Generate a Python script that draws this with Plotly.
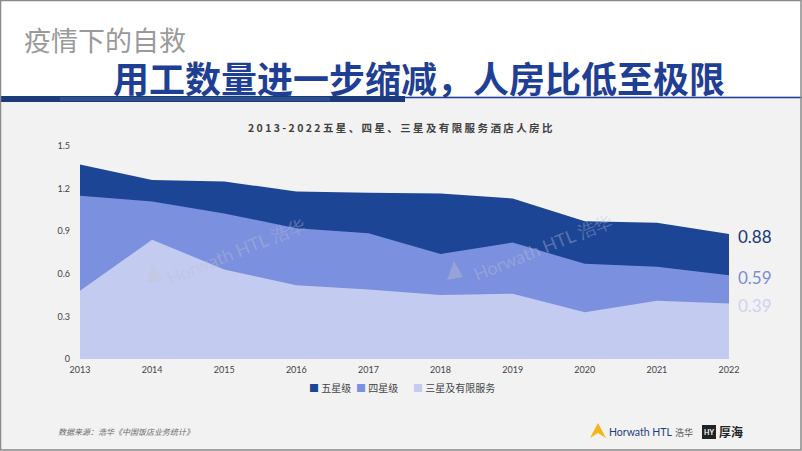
import plotly.graph_objects as go

years = [2013, 2014, 2015, 2016, 2017, 2018, 2019, 2020, 2021, 2022]
five_star = [1.37, 1.26, 1.25, 1.18, 1.17, 1.165, 1.13, 0.97, 0.96, 0.88]
four_star = [1.15, 1.11, 1.025, 0.92, 0.885, 0.74, 0.82, 0.67, 0.65, 0.59]
three_star = [0.48, 0.84, 0.63, 0.52, 0.49, 0.45, 0.46, 0.33, 0.41, 0.39]
series_names = ["五星级", "四星级", "三星及有限服务"]
y_ticks = [0, 0.3, 0.6, 0.9, 1.2, 1.5]
y_tick_text = ["0", "0.3", "0.6", "0.9", "1.2", "1.5"]

colors = ["#1D4596", "#7B91E0", "#C3CBF1"]
label_colors = ["#17357A", "#7A8CD6", "#CDD3F0"]

W, H = 802, 451
ML, MR, MT, MB = 80, 73, 146, 92
PW, PH = W - ML - MR, H - MT - MB


def px(x):
    return (x - ML) / PW


def py(y):
    return (H - MB - y) / PH


fig = go.Figure()
for name, vals, col in zip(series_names, [five_star, four_star, three_star], colors):
    fig.add_trace(go.Scatter(
        x=years, y=vals, mode="lines", fill="tozeroy", fillcolor=col,
        line=dict(width=0, color=col), name=name, showlegend=False,
        hoverinfo="x+y"))

shapes = []
# white header
shapes.append(dict(type="rect", xref="paper", yref="paper", x0=px(0), x1=px(W),
                   y0=py(96), y1=py(0), fillcolor="white", line=dict(width=0), layer="below"))
# thin blue line
shapes.append(dict(type="line", xref="paper", yref="paper", x0=px(0), x1=px(W),
                   y0=py(97.5), y1=py(97.5), line=dict(color="#1F3F95", width=1.5)))
# dark textured bar
shapes.append(dict(type="rect", xref="paper", yref="paper", x0=px(0), x1=px(405),
                   y0=py(102), y1=py(96), fillcolor="#1C3A7A", line=dict(width=0)))
shapes.append(dict(type="rect", xref="paper", yref="paper", x0=px(60), x1=px(330),
                   y0=py(101), y1=py(97), fillcolor="rgba(80,120,180,0.35)", line=dict(width=0)))
# border
shapes.append(dict(type="rect", xref="paper", yref="paper", x0=px(0.5), x1=px(W - 1),
                   y0=py(H - 1), y1=py(0.5), line=dict(color="#8a8a8a", width=1.5)))
# watermark triangles
for cx, cy in [(153, 274), (454, 271)]:
    shapes.append(dict(type="path", xref="paper", yref="paper",
                       path=f"M {px(cx-7)},{py(cy+9)} L {px(cx)},{py(cy-10)} L {px(cx+9)},{py(cy+6)} Z",
                       fillcolor="rgba(200,195,200,0.35)", line=dict(width=0)))
# logo triangle
shapes.append(dict(type="path", xref="paper", yref="paper",
                   path=f"M {px(590)},{py(438)} L {px(598)},{py(423)} L {px(606)},{py(438)} L {px(598)},{py(433)} Z",
                   fillcolor="#F2B51C", line=dict(width=0)))
# logo box 厚海
shapes.append(dict(type="rect", xref="paper", yref="paper", x0=px(702), x1=px(716),
                   y0=py(439), y1=py(425), fillcolor="#222", line=dict(width=0)))

ann = []
ann.append(dict(text="疫情下的自救", x=px(22), y=py(40), xref="paper", yref="paper",
                xanchor="left", yanchor="middle", showarrow=False,
                font=dict(size=27, color="#9A9A9A", family="Noto Sans CJK SC")))
ann.append(dict(text="<b>用工数量进一步缩减，人房比低至极限</b>", x=px(419), y=py(77),
                xref="paper", yref="paper", xanchor="center", yanchor="middle", showarrow=False,
                font=dict(size=36, color="#1F3F95", family="Noto Sans CJK SC")))
title_txt = " ".join(list("2013-2022五星、四星、三星及有限服务酒店人房比"))
ann.append(dict(text="<b>" + title_txt + "</b>", x=px(400), y=py(127), xref="paper", yref="paper",
                xanchor="center", yanchor="middle", showarrow=False,
                font=dict(size=10.5, color="#404040", family="Noto Sans CJK SC")))
for v, col in zip([five_star[-1], four_star[-1], three_star[-1]], label_colors):
    ann.append(dict(text=f"{v:.2f}", x=years[-1], y=v, xref="x", yref="y",
                    xanchor="left", yanchor="middle", xshift=7, yshift=-2, showarrow=False,
                    font=dict(size=17, color=col, family="Lato")))
for cx, cy in [(236, 251), (543, 247)]:
    ann.append(dict(text="Horwath HTL 浩华", x=px(cx), y=py(cy), xref="paper", yref="paper",
                    xanchor="center", yanchor="middle",
                    showarrow=False, textangle=-22,
                    font=dict(size=18, color="rgba(190,190,205,0.38)", family="Lato")))
# legend (square + label)
legend_x = [307, 354, 411]
for name, col, lx in zip(series_names, colors, legend_x):
    ann.append(dict(text=f"<span style='color:{col}'>■</span> {name}", x=px(lx), y=py(387),
                    xref="paper", yref="paper", xanchor="left", yanchor="middle", showarrow=False,
                    font=dict(size=10, color="#444", family="Noto Sans CJK SC")))
ann.append(dict(text="<i>数据来源：浩华《中国饭店业务统计》</i>", x=px(56), y=py(431),
                xref="paper", yref="paper", xanchor="left", yanchor="middle", showarrow=False,
                font=dict(size=8, color="#6a6a6a", family="Noto Sans CJK SC")))
ann.append(dict(text="Horwath HTL", x=px(607), y=py(432), xref="paper", yref="paper",
                xanchor="left", yanchor="middle", showarrow=False,
                font=dict(size=10.5, color="#1F3F7F", family="Lato")))
ann.append(dict(text="浩华", x=px(673), y=py(432), xref="paper", yref="paper",
                xanchor="left", yanchor="middle", showarrow=False,
                font=dict(size=9, color="#555", family="Noto Sans CJK SC")))
ann.append(dict(text="<b>HY</b>", x=px(709), y=py(432), xref="paper", yref="paper",
                xanchor="center", yanchor="middle", showarrow=False,
                font=dict(size=7, color="white", family="Lato")))
ann.append(dict(text="<b>厚海</b>", x=px(717), y=py(431), xref="paper", yref="paper",
                xanchor="left", yanchor="middle", showarrow=False,
                font=dict(size=12, color="#222", family="Noto Sans CJK SC")))

fig.update_layout(
    width=W, height=H,
    margin=dict(l=ML, r=MR, t=MT, b=MB, autoexpand=False),
    paper_bgcolor="#F2F2F3", plot_bgcolor="rgba(0,0,0,0)",
    xaxis=dict(range=[2013, 2022], tickvals=years, ticktext=[str(y) for y in years],
               showgrid=False, zeroline=False, showline=False, ticks="",
               tickfont=dict(size=9, color="#444", family="Lato"), ticklabelstandoff=4),
    yaxis=dict(range=[0, 1.5], tickvals=y_ticks, ticktext=y_tick_text,
               showgrid=False, zeroline=False, showline=False, ticks="",
               tickfont=dict(size=9, color="#444", family="Lato"), ticklabelstandoff=9),
    shapes=shapes, annotations=ann, showlegend=False,
)
fig.write_html("out.html", config={"displayModeBar": False},
               post_script="document.body.style.margin='0px';")
